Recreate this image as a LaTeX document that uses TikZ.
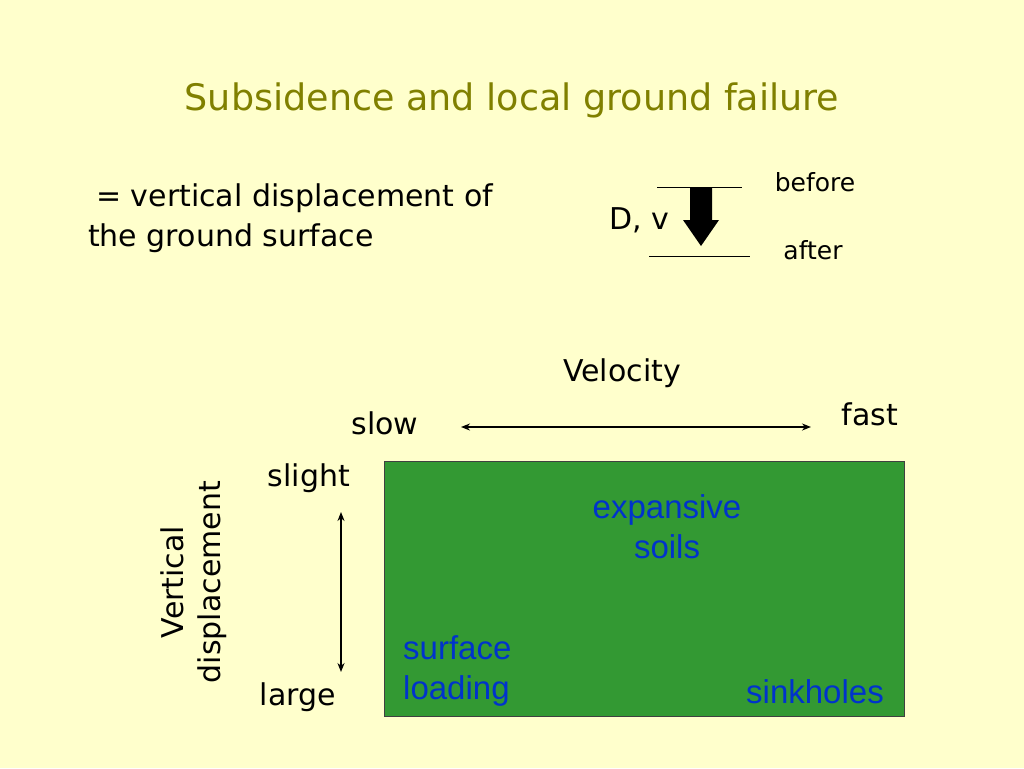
\documentclass[tikz,border=0pt]{standalone}
\usepackage{fontspec}
\setmainfont{DejaVu Sans}
\newfontfamily\arialfont{Liberation Sans}
\usetikzlibrary{arrows.meta,positioning}
\definecolor{paper}{HTML}{FFFFCC}
\definecolor{olivetitle}{HTML}{808000}
\definecolor{boxgreen}{HTML}{339933}
\definecolor{soilblue}{HTML}{0033CC}
\tikzset{
  label/.style={font=\fontsize{30}{36}\selectfont, inner sep=0pt},
  small/.style={font=\fontsize{25}{30}\selectfont, inner sep=0pt},
  soil/.style={font=\arialfont\fontsize{33}{40}\selectfont, text=soilblue, inner sep=0pt},
  twoway/.style={{Stealth[length=9pt,width=7pt]}-{Stealth[length=9pt,width=7pt]}}
}
\begin{document}
\begin{tikzpicture}[x=1pt,y=-1pt]
% Background
\fill[paper] (0,0) rectangle (1024,768);
\useasboundingbox (0,0) rectangle (1024,768);

% Title
\node[font=\fontsize{36.5}{42}\selectfont, text=olivetitle] (title) at (512,100) {Subsidence and local ground failure};

% Definition
\node[label, anchor=west] (def1) at (96,198) {= vertical displacement of};
\node[label, anchor=west] (def2) at (88,238) {the ground surface};

% Before / after sketch
\draw[line width=0.8pt] (657,187) -- (742,187);
\draw[line width=0.8pt] (649,256) -- (750,256);
\fill[black] (690,187) -- (712,187) -- (712,220) -- (719,220) -- (701,246) -- (683,220) -- (690,220) -- cycle;
\node[label] (dv) at (639,220) {D, v};
\node[small] (before) at (815,182) {before};
\node[small] (after) at (813,250) {after};

% Velocity axis
\node[label] (velocity) at (622,373) {Velocity};
\node[label] (slow) at (385,423) {slow};
\node[label] (fast) at (870,414) {fast};
\coordinate (vl) at (461,427);
\coordinate (vr) at (811,427);
\draw[twoway, line width=1.5pt] (vl) -- (vr);

% Box
\node[draw=black!75, line width=1.2pt, fill=boxgreen, minimum width=520pt, minimum height=255pt, inner sep=0pt, anchor=north west] (box) at (384,461) {};

% Displacement axis
\node[label] (slight) at (309,478) {slight};
\node[label] (large) at (298,697) {large};
\coordinate (dt) at (341,512);
\coordinate (db) at (341,672);
\draw[twoway, line width=2.8pt] (dt) -- (db);
\node[label, rotate=90, align=center, font=\fontsize{30}{37}\selectfont] (vdisp) at (194,582) {Vertical\\displacement};

% Soil cases
\node[soil, align=center, font=\arialfont\fontsize{33}{40}\selectfont] (expansive) at (667,527) {expansive\\soils};
\node[soil, align=left, anchor=west, font=\arialfont\fontsize{33}{40}\selectfont] (surface) at (403,671) {surface\\loading};
\node[soil] (sinkholes) at (815,692) {sinkholes};
\end{tikzpicture}
\end{document}
